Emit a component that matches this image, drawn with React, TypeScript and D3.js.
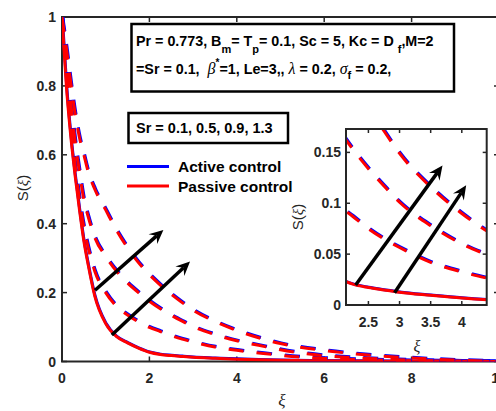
import React from 'react';
import * as d3 from 'd3';

const xi = [0, 0.1, 0.2, 0.3, 0.4, 0.5, 0.6, 0.75, 1, 1.25, 1.5, 1.75, 2, 2.25, 2.5, 2.75, 3, 3.5, 4, 4.5, 5, 6, 7, 8, 9, 10];

// S(xi) for Sr = 0.1 (solid), 0.5, 0.9, 1.3 (dashed)
const sr01 = [1, 0.8, 0.655, 0.54, 0.44, 0.35, 0.28, 0.19, 0.11, 0.072, 0.054, 0.039, 0.027, 0.0205, 0.0172, 0.0148, 0.0125, 0.0095, 0.0068, 0.0048, 0.0035, 0.002, 0.0012, 0.0007, 0.0003, 0];
const sr05 = [1, 0.83, 0.69, 0.57, 0.47, 0.39, 0.33, 0.262, 0.2, 0.16, 0.135, 0.115, 0.099, 0.087, 0.075, 0.065, 0.0565, 0.042, 0.0325, 0.025, 0.018, 0.009, 0.005, 0.0025, 0.001, 0];
const sr09 = [1, 0.87, 0.75, 0.64, 0.55, 0.47, 0.42, 0.36, 0.305, 0.262, 0.228, 0.2, 0.175, 0.153, 0.134, 0.117, 0.101, 0.078, 0.06, 0.047, 0.034, 0.017, 0.009, 0.004, 0.0015, 0];
const sr13 = [1, 0.91, 0.81, 0.72, 0.65, 0.6, 0.55, 0.5, 0.44, 0.38, 0.33, 0.287, 0.252, 0.222, 0.195, 0.171, 0.149, 0.116, 0.09, 0.069, 0.052, 0.032, 0.019, 0.01, 0.004, 0];

const series = [
  { values: sr01, dashed: false },
  { values: sr05, dashed: true },
  { values: sr09, dashed: true },
  { values: sr13, dashed: true },
];

const mainXTicks = [0, 2, 4, 6, 8, 10];
const mainYTicks = [0, 0.2, 0.4, 0.6, 0.8, 1];
const insetXTicks = [2.5, 3, 3.5, 4];
const insetYTicks = [0, 0.05, 0.1, 0.15];

// arrows [x0, y0, x1, y1] in data units of each axes
const mainArrows = [[0.755, 0.207, 2.32, 0.382], [1.14, 0.077, 2.93, 0.29]];
const insetArrows = [[2.295, 0.0196, 3.69, 0.137], [2.92, 0.012, 4.07, 0.1176]];

const BLUE = '#0000ff';
const RED = '#ff0000';
const AX = '#262626';
const SANS = "'Liberation Sans', Arial, sans-serif";
const SERIF = "'Liberation Serif', 'DejaVu Serif', serif";

function Arrow({ x0, y0, x1, y1 }: { x0: number; y0: number; x1: number; y1: number }) {
  const a = Math.atan2(y1 - y0, x1 - x0);
  const len = 14, half = 6.5, notch = 9;
  const bx = x1 - notch * Math.cos(a), by = y1 - notch * Math.sin(a);
  const lx = x1 - len * Math.cos(a) + half * Math.sin(a);
  const ly = y1 - len * Math.sin(a) - half * Math.cos(a);
  const rx = x1 - len * Math.cos(a) - half * Math.sin(a);
  const ry = y1 - len * Math.sin(a) + half * Math.cos(a);
  return (
    <g>
      <line x1={x0} y1={y0} x2={bx} y2={by} stroke="black" strokeWidth={3.5} />
      <polygon points={`${x1},${y1} ${lx},${ly} ${bx},${by} ${rx},${ry}`} fill="black" />
    </g>
  );
}

function Curves({ x, y, clip }: { x: d3.ScaleLinear<number, number>; y: d3.ScaleLinear<number, number>; clip: string }) {
  const line = d3.line<number>()
    .x((_, i) => x(xi[i]))
    .y(d => y(d))
    .curve(d3.curveMonotoneX);
  return (
    <g clipPath={`url(#${clip})`}>
      {series.map((s, i) => (
        <g key={i}>
          <path d={line(s.values) || ''} fill="none" stroke={BLUE} strokeWidth={3}
            strokeDasharray={s.dashed ? '15 13' : undefined}
            transform={s.dashed ? 'translate(0.7,-0.7)' : 'translate(0.3,-0.3)'} />
          <path d={line(s.values) || ''} fill="none" stroke={RED} strokeWidth={3}
            strokeDasharray={s.dashed ? '15 13' : undefined} />
        </g>
      ))}
    </g>
  );
}

export default function App() {
  const W = 496, H = 411;
  const m = { left: 62, right: 499, top: 17, bottom: 361.5 };
  const x = d3.scaleLinear().domain([0, 10]).range([m.left, m.right]);
  const y = d3.scaleLinear().domain([0, 1]).range([m.bottom, m.top]);

  const ins = { left: 346, right: 486.7, top: 129, bottom: 305 };
  const ix = d3.scaleLinear().domain([2.14, 4.4]).range([ins.left, ins.right]);
  const iy = d3.scaleLinear().domain([0, 0.173]).range([ins.bottom, ins.top]);

  const tick = 5;
  const sub = { fontSize: 11 };

  return (
    <svg width={W} height={H} style={{ position: 'absolute', left: 0, top: 0, background: 'white' }}>
      <defs>
        <clipPath id="mainClip">
          <rect x={m.left} y={m.top} width={m.right - m.left} height={m.bottom - m.top} />
        </clipPath>
        <clipPath id="insetClip">
          <rect x={ins.left} y={ins.top} width={ins.right - ins.left} height={ins.bottom - ins.top} />
        </clipPath>
      </defs>

      {/* main axes */}
      <rect x={m.left} y={m.top} width={m.right - m.left} height={m.bottom - m.top} fill="white" stroke={AX} strokeWidth={2} />
      {mainXTicks.map(t => (
        <g key={'x' + t}>
          <line x1={x(t)} x2={x(t)} y1={m.bottom} y2={m.bottom - tick} stroke={AX} strokeWidth={1.5} />
          <line x1={x(t)} x2={x(t)} y1={m.top} y2={m.top + tick} stroke={AX} strokeWidth={1.5} />
          <text x={x(t)} y={m.bottom + 21} textAnchor="middle" fontFamily={SANS} fontWeight="bold" fontSize={14} fill={AX}>{t}</text>
        </g>
      ))}
      {mainYTicks.map(t => (
        <g key={'y' + t}>
          <line x1={m.left} x2={m.left + tick} y1={y(t)} y2={y(t)} stroke={AX} strokeWidth={1.5} />
          <line x1={m.right} x2={m.right - tick} y1={y(t)} y2={y(t)} stroke={AX} strokeWidth={1.5} />
          <text x={m.left - 6} y={y(t) + 5} textAnchor="end" fontFamily={SANS} fontWeight="bold" fontSize={14} fill={AX}>{t}</text>
        </g>
      ))}
      <text x={282} y={406} textAnchor="middle" fontFamily={SERIF} fontStyle="italic" fontSize={17} fill={AX}>ξ</text>
      <text transform="translate(28,188) rotate(-90)" textAnchor="middle" fontFamily={SANS} fontSize={15} fill={AX}>
        S(<tspan fontFamily={SERIF} fontStyle="italic">ξ</tspan>)
      </text>

      <Curves x={x} y={y} clip="mainClip" />
      {mainArrows.map((a, i) => (
        <Arrow key={i} x0={x(a[0])} y0={y(a[1])} x1={x(a[2])} y1={y(a[3])} />
      ))}

      {/* parameter box */}
      <rect x={131.5} y={24} width={322.5} height={67.5} fill="white" stroke="black" strokeWidth={2.5} />
      <text x={136} y={46} fontFamily={SANS} fontWeight="bold" fontSize={14.3} fill="black">
        Pr = 0.773, B<tspan dy={7} {...sub}>m</tspan><tspan dy={-7}>= T</tspan><tspan dy={7} {...sub}>p</tspan>
        <tspan dy={-7}>= 0.1, Sc = 5, Kc = D </tspan><tspan dy={7} {...sub}>f</tspan><tspan dy={-7}>,M=2</tspan>
      </text>
      <text x={136} y={74} fontFamily={SANS} fontWeight="bold" fontSize={14.3} fill="black" xmlSpace="preserve">
        =Sr = 0.1,{'  '}<tspan fontFamily={SERIF} fontStyle="italic" fontWeight="normal" fontSize={16}>β</tspan>
        <tspan dy={-8} fontSize={10}>*</tspan><tspan dy={8}>=1, Le=3,, </tspan>
        <tspan fontFamily={SERIF} fontStyle="italic" fontWeight="normal" fontSize={16}>λ</tspan>
        <tspan> = 0.2, </tspan>
        <tspan fontFamily={SERIF} fontStyle="italic" fontWeight="normal" fontSize={16}>σ</tspan>
        <tspan dy={5} {...sub}>f</tspan><tspan dy={-5}> = 0.2,</tspan>
      </text>

      {/* Sr box */}
      <rect x={128.5} y={113} width={159.5} height={30} fill="white" stroke="black" strokeWidth={2.5} />
      <text x={136} y={133} fontFamily={SANS} fontWeight="bold" fontSize={14.5} fill="black">Sr = 0.1, 0.5, 0.9, 1.3</text>

      {/* legend */}
      <line x1={127} x2={169} y1={166.5} y2={166.5} stroke={BLUE} strokeWidth={3} />
      <text x={178} y={172} fontFamily={SANS} fontWeight="bold" fontSize={15.5} fill="black">Active control</text>
      <line x1={127} x2={169} y1={186} y2={186} stroke={RED} strokeWidth={3} />
      <text x={178} y={191.5} fontFamily={SANS} fontWeight="bold" fontSize={15.5} fill="black">Passive control</text>

      {/* inset */}
      <rect x={ins.left} y={ins.top} width={ins.right - ins.left} height={ins.bottom - ins.top} fill="white" />
      <Curves x={ix} y={iy} clip="insetClip" />
      {insetArrows.map((a, i) => (
        <Arrow key={i} x0={ix(a[0])} y0={iy(a[1])} x1={ix(a[2])} y1={iy(a[3])} />
      ))}
      <rect x={ins.left} y={ins.top} width={ins.right - ins.left} height={ins.bottom - ins.top} fill="none" stroke={AX} strokeWidth={2} />
      {insetXTicks.map(t => (
        <g key={'ix' + t}>
          <line x1={ix(t)} x2={ix(t)} y1={ins.bottom} y2={ins.bottom - 4} stroke={AX} strokeWidth={1.5} />
          <line x1={ix(t)} x2={ix(t)} y1={ins.top} y2={ins.top + 4} stroke={AX} strokeWidth={1.5} />
          <text x={ix(t)} y={ins.bottom + 22} textAnchor="middle" fontFamily={SANS} fontWeight="bold" fontSize={14} fill={AX}>{t}</text>
        </g>
      ))}
      {insetYTicks.map(t => (
        <g key={'iy' + t}>
          <line x1={ins.left} x2={ins.left + 4} y1={iy(t)} y2={iy(t)} stroke={AX} strokeWidth={1.5} />
          <line x1={ins.right} x2={ins.right - 4} y1={iy(t)} y2={iy(t)} stroke={AX} strokeWidth={1.5} />
          <text x={ins.left - 5} y={iy(t) + 5} textAnchor="end" fontFamily={SANS} fontWeight="bold" fontSize={14} fill={AX}>{t}</text>
        </g>
      ))}
      <text x={417} y={352} textAnchor="middle" fontFamily={SERIF} fontStyle="italic" fontSize={16} fill={AX}>ξ</text>
      <text transform="translate(303,217) rotate(-90)" textAnchor="middle" fontFamily={SANS} fontSize={15} fill={AX}>
        S(<tspan fontFamily={SERIF} fontStyle="italic">ξ</tspan>)
      </text>
    </svg>
  );
}
